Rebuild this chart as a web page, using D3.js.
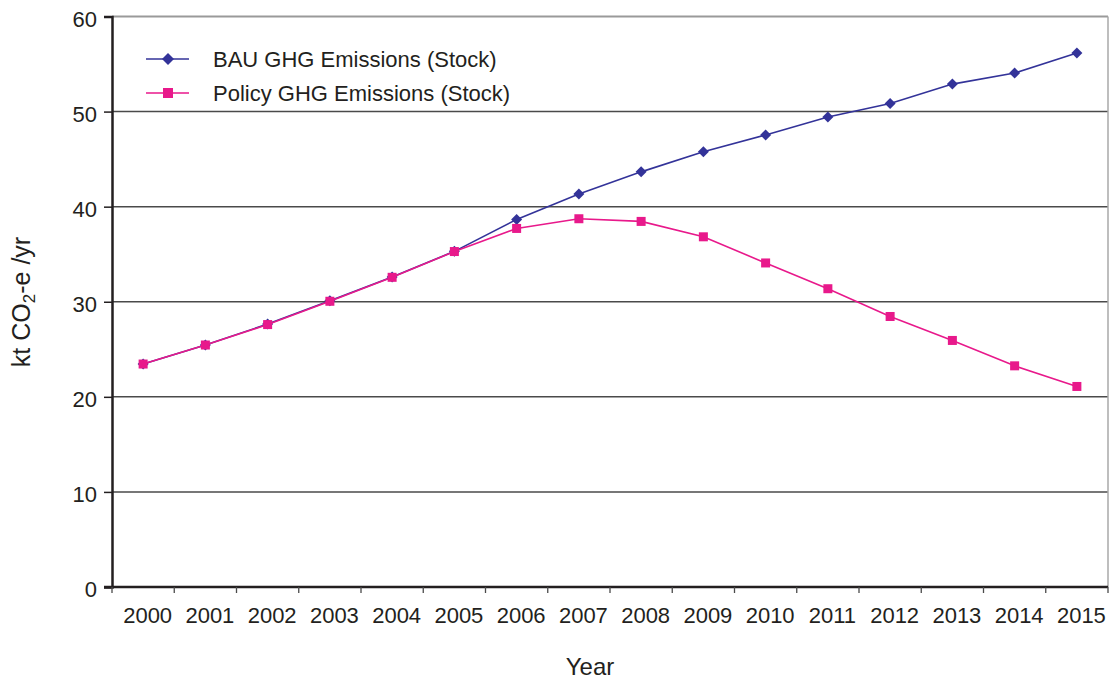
<!DOCTYPE html>
<html><head><meta charset="utf-8">
<script src="https://cdn.jsdelivr.net/npm/d3@7"></script>
<style>
html,body{margin:0;padding:0;background:#fff;}
text{font-family:"Liberation Sans",Arial,Helvetica,sans-serif;fill:#231f20;}
</style></head>
<body>
<svg id="chart" width="1111" height="679"></svg>
<script>
const years = ["2000","2001","2002","2003","2004","2005","2006","2007","2008","2009","2010","2011","2012","2013","2014","2015"];
const bauValues = [23.45,25.45,27.65,30.1,32.6,35.3,38.66,41.34,43.66,45.77,47.54,49.44,50.85,52.89,54.05,56.16];
const policyValues = [23.45,25.45,27.6,30.05,32.57,35.28,37.71,38.73,38.45,36.83,34.08,31.37,28.45,25.93,23.26,21.09];
const yTicks = [0,10,20,30,40,50,60];
const seriesNames = ["BAU GHG Emissions (Stock)","Policy GHG Emissions (Stock)"];
const seriesColors = ["#333399","#e8198b"];

const svg = d3.select("#chart");
const L = 112, R = 1108, T = 16.5, B = 587;

const x = d3.scaleBand().domain(years).range([L, R]).paddingInner(0).paddingOuter(0);
const y = d3.scaleLinear().domain([0, 60]).range([B, T]);
const cx = d => x(d) + x.bandwidth()/2;

// gridlines
svg.append("g").selectAll("line").data(yTicks.filter(v => v > 0 && v < 60)).join("line")
  .attr("x1", L).attr("x2", R).attr("y1", d => y(d)).attr("y2", d => y(d))
  .attr("stroke", "#4a4a4a").attr("stroke-width", 1.5);
// top & right border
svg.append("line").attr("x1", L).attr("x2", R).attr("y1", y(60)).attr("y2", y(60))
  .attr("stroke", "#9a9a9a").attr("stroke-width", 2);
svg.append("line").attr("x1", R).attr("x2", R).attr("y1", y(60)).attr("y2", B)
  .attr("stroke", "#a8a8a8").attr("stroke-width", 1.5);

// y axis
const yAxis = d3.axisLeft(y).tickValues(yTicks).tickSize(8).tickPadding(7);
const gy = svg.append("g").attr("transform", `translate(${L},0)`).call(yAxis);
gy.select(".domain").attr("stroke", "#231f20").attr("stroke-width", 2.5);
gy.selectAll(".tick line").attr("stroke", "#231f20").attr("stroke-width", 1.5);
gy.selectAll(".tick text").attr("font-size", 22).attr("dy", "0.45em")
  .style("font-family", '"Liberation Sans",Arial,sans-serif').attr("fill", "#231f20");

// x axis
const xAxis = d3.axisBottom(x).tickSize(0).tickPadding(0);
const gx = svg.append("g").attr("transform", `translate(0,${B})`).call(xAxis);
gx.select(".domain").remove();
svg.append("line").attr("x1", L - 8).attr("x2", R).attr("y1", B).attr("y2", B)
  .attr("stroke", "#231f20").attr("stroke-width", 2.5);
gx.selectAll(".tick text").attr("font-size", 22).attr("dx", 4.5).attr("dy", 0).attr("y", 36)
  .style("font-family", '"Liberation Sans",Arial,sans-serif').attr("fill", "#231f20");
// band-edge tick marks
const edges = years.map(d => x(d)).concat([R]);
svg.append("g").selectAll("line").data(edges).join("line")
  .attr("x1", d => d).attr("x2", d => d).attr("y1", B).attr("y2", B + 6)
  .attr("stroke", "#4a4a4a").attr("stroke-width", 1.3);

// titles
svg.append("text").attr("x", 590).attr("y", 675).attr("text-anchor", "middle")
  .attr("font-size", 24).text("Year");
const yt = svg.append("text").attr("transform", "translate(30,302) rotate(-90)")
  .attr("text-anchor", "middle").attr("font-size", 25);
yt.append("tspan").text("kt CO");
yt.append("tspan").attr("font-size", 17).attr("dy", 5).text("2");
yt.append("tspan").attr("dy", -5).text("-e /yr");

// lines
const line = d3.line().x((d, i) => cx(years[i])).y(d => y(d));
const diamondPath = r => `M0,${-r}L${r},0L0,${r}L${-r},0Z`;

svg.append("path").datum(bauValues).attr("d", line).attr("fill", "none")
  .attr("stroke", seriesColors[0]).attr("stroke-width", 1.6);
svg.append("g").selectAll("path").data(bauValues).join("path")
  .attr("d", diamondPath(5.5)).attr("transform", (d, i) => `translate(${cx(years[i])},${y(d)})`)
  .attr("fill", seriesColors[0]);

svg.append("path").datum(policyValues).attr("d", line).attr("fill", "none")
  .attr("stroke", seriesColors[1]).attr("stroke-width", 1.6);
svg.append("g").selectAll("rect").data(policyValues).join("rect")
  .attr("x", (d, i) => cx(years[i]) - 4.5).attr("y", d => y(d) - 4.5)
  .attr("width", 9).attr("height", 9).attr("fill", seriesColors[1]);

// legend
const legY = [59, 93];
const lg = svg.append("g");
seriesNames.forEach((name, i) => {
  lg.append("line").attr("x1", 146).attr("x2", 189).attr("y1", legY[i]).attr("y2", legY[i])
    .attr("stroke", seriesColors[i]).attr("stroke-width", 1.6);
  if (i === 0) {
    lg.append("path").attr("d", diamondPath(6)).attr("transform", `translate(168,${legY[i]})`).attr("fill", seriesColors[i]);
  } else {
    lg.append("rect").attr("x", 168 - 5).attr("y", legY[i] - 5).attr("width", 10).attr("height", 10).attr("fill", seriesColors[i]);
  }
  lg.append("text").attr("x", 213).attr("y", legY[i]).attr("dy", "0.36em").attr("font-size", 22).text(name);
});
</script>
</body></html>
